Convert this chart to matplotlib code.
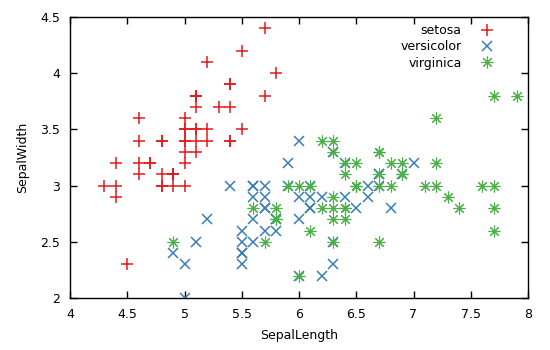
import matplotlib
matplotlib.use('Agg')
import matplotlib.pyplot as plt

# Iris sepal measurements
setosa_len = [5.1, 4.9, 4.7, 4.6, 5.0, 5.4, 4.6, 5.0, 4.4, 4.9, 5.4, 4.8, 4.8, 4.3, 5.8, 5.7, 5.4,
              5.1, 5.7, 5.1, 5.4, 5.1, 4.6, 5.1, 4.8, 5.0, 5.0, 5.2, 5.2, 4.7, 4.8, 5.4, 5.2, 5.5,
              4.9, 5.0, 5.5, 4.9, 4.4, 5.1, 5.0, 4.5, 4.4, 5.0, 5.1, 4.8, 5.1, 4.6, 5.3, 5.0]
setosa_wid = [3.5, 3.0, 3.2, 3.1, 3.6, 3.9, 3.4, 3.4, 2.9, 3.1, 3.7, 3.4, 3.0, 3.0, 4.0, 4.4, 3.9,
              3.5, 3.8, 3.8, 3.4, 3.7, 3.6, 3.3, 3.4, 3.0, 3.4, 3.5, 3.4, 3.2, 3.1, 3.4, 4.1, 4.2,
              3.1, 3.2, 3.5, 3.1, 3.0, 3.4, 3.5, 2.3, 3.2, 3.5, 3.8, 3.0, 3.8, 3.2, 3.7, 3.3]

versicolor_len = [7.0, 6.4, 6.9, 5.5, 6.5, 5.7, 6.3, 4.9, 6.6, 5.2, 5.0, 5.9, 6.0, 6.1, 5.6, 6.7, 5.6,
                  5.8, 6.2, 5.6, 5.9, 6.1, 6.3, 6.1, 6.4, 6.6, 6.8, 6.7, 6.0, 5.7, 5.5, 5.5, 5.8, 6.0,
                  5.4, 6.0, 6.7, 6.3, 5.6, 5.5, 5.5, 6.1, 5.8, 5.0, 5.6, 5.7, 5.7, 6.2, 5.1, 5.7]
versicolor_wid = [3.2, 3.2, 3.1, 2.3, 2.8, 2.8, 3.3, 2.4, 2.9, 2.7, 2.0, 3.0, 2.2, 2.9, 2.9, 3.1, 3.0,
                  2.7, 2.2, 2.5, 3.2, 2.8, 2.5, 2.8, 2.9, 3.0, 2.8, 3.0, 2.9, 2.6, 2.4, 2.4, 2.7, 2.7,
                  3.0, 3.4, 3.1, 2.3, 3.0, 2.5, 2.6, 3.0, 2.6, 2.3, 2.7, 3.0, 2.9, 2.9, 2.5, 2.8]

virginica_len = [6.3, 5.8, 7.1, 6.3, 6.5, 7.6, 4.9, 7.3, 6.7, 7.2, 6.5, 6.4, 6.8, 5.7, 5.8, 6.4, 6.5,
                 7.7, 7.7, 6.0, 6.9, 5.6, 7.7, 6.3, 6.7, 7.2, 6.2, 6.1, 6.4, 7.2, 7.4, 7.9, 6.4, 6.3,
                 6.1, 7.7, 6.3, 6.4, 6.0, 6.9, 6.7, 6.9, 5.8, 6.8, 6.7, 6.7, 6.3, 6.5, 6.2, 5.9]
virginica_wid = [3.3, 2.7, 3.0, 2.9, 3.0, 3.0, 2.5, 2.9, 2.5, 3.6, 3.2, 2.7, 3.0, 2.5, 2.8, 3.2, 3.0,
                 3.8, 2.6, 2.2, 3.2, 2.8, 2.8, 2.7, 3.3, 3.2, 2.8, 3.0, 2.8, 3.0, 2.8, 3.8, 2.8, 2.8,
                 2.6, 3.0, 3.4, 3.1, 3.0, 3.1, 3.1, 3.1, 2.7, 3.2, 3.3, 3.0, 2.5, 3.0, 3.4, 3.0]

x_ticks = [4, 4.5, 5, 5.5, 6, 6.5, 7, 7.5, 8]
y_ticks = [2, 2.5, 3, 3.5, 4, 4.5]

fig = plt.figure(figsize=(5.5, 3.5), dpi=100)
ax = fig.add_axes([70 / 550, 52 / 350, 458 / 550, 281 / 350])

ax.plot(setosa_len, setosa_wid, ls='none', marker='+', ms=8.5, mew=1.1, color='#e41a1c', label='setosa')
ax.plot(versicolor_len, versicolor_wid, ls='none', marker='x', ms=7, mew=1.1, color='#377eb8', label='versicolor')
ax.plot(virginica_len, virginica_wid, ls='none', marker=(8, 2, 0), ms=8.5, mew=0.8, color='#4daf4a', label='virginica')

ax.set_xlim(4, 8)
ax.set_ylim(2, 4.5)
ax.set_xticks(x_ticks)
ax.set_xticklabels([f'{v:g}' for v in x_ticks])
ax.set_yticks(y_ticks)
ax.set_yticklabels([f'{v:g}' for v in y_ticks])
ax.tick_params(direction='in', top=True, right=True, length=5, width=1, labelsize=9, pad=7)
for s in ax.spines.values():
    s.set_linewidth(1)

ax.set_xlabel('SepalLength', fontsize=9, labelpad=6)
ax.set_ylabel('SepalWidth', fontsize=9, labelpad=8)

leg = ax.legend(loc='upper right', frameon=False, markerfirst=False, fontsize=9,
                handlelength=1.5, handletextpad=1.25, labelspacing=0.27,
                borderaxespad=0.0, bbox_to_anchor=(0.941, 0.993))
for t in leg.get_texts():
    t.set_ha('right')

fig.savefig('out.png', dpi=100)
